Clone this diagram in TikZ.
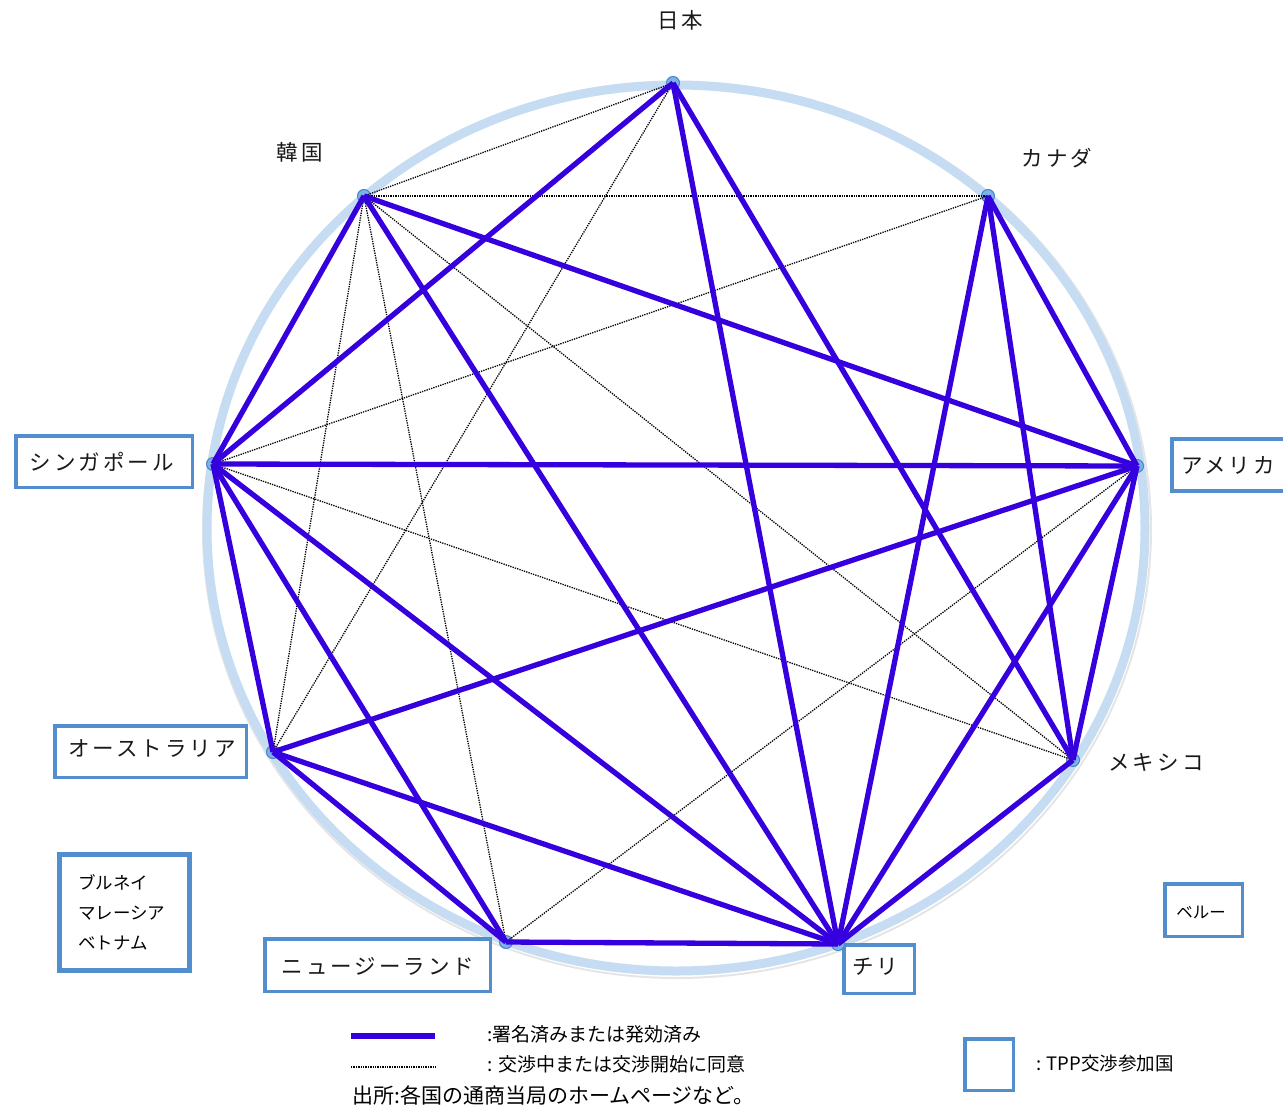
\documentclass[tikz,border=0pt]{standalone}
\usepackage{fontspec}
\newfontfamily\jp{Noto Sans CJK JP}
\newfontfamily\jpsp[LetterSpace=14]{Noto Sans CJK JP}
\usetikzlibrary{shadows}
\definecolor{fta}{RGB}{54,0,222}
\definecolor{ring}{RGB}{198,220,243}
\definecolor{boxblue}{RGB}{82,142,206}
\definecolor{dotfill}{RGB}{125,178,232}
\definecolor{dotdraw}{RGB}{72,132,200}
\begin{document}
\begin{tikzpicture}[x=1pt,y=-1pt,
  signed/.style={draw=fta, line width=5.3pt},
  talks/.style={draw=black, line width=1.3pt, dash pattern=on 1.3pt off 1.1pt},
  vtx/.style={circle, fill=dotfill, draw=dotdraw, line width=1pt, minimum size=13pt, inner sep=0pt},
  cname/.style={font=\jpsp\fontsize{21.5}{24}\selectfont, inner sep=0pt, text=black!90},
  tbox/.style={draw=boxblue, line width=3.5pt, fill=white, inner sep=0pt,
     drop shadow={opacity=0.22, shadow xshift=2pt, shadow yshift=-2pt}},
  legtext/.style={font=\jp\fontsize{19}{22}\selectfont, anchor=west, inner sep=0pt},
]
\useasboundingbox[fill=white] (0,0) rectangle (1283,1111);

% ring
\draw[black, opacity=0.10, line width=2pt] (677,530) ellipse [x radius=474, y radius=448];
\draw[ring, line width=9pt] (676,528) ellipse [x radius=469, y radius=443];

% boxes
\node[tbox, minimum width=176.5pt, minimum height=51.5pt] (sgbox) at (104,461.5) {};
\node[tbox, minimum width=118pt, minimum height=52pt] (ambox) at (1231,465) {};
\node[tbox, minimum width=191.5pt, minimum height=51.5pt] (aubox) at (150.5,751.5) {};
\node[tbox, minimum width=225.5pt, minimum height=52.5pt] (nzbox) at (377.5,965) {};
\node[tbox, minimum width=70.5pt, minimum height=48.5pt] (chbox) at (879,969) {};
\node[tbox, minimum width=77.5pt, minimum height=52.5pt] (pebox) at (1203.5,910) {};
\node[tbox, minimum width=48.5pt, minimum height=51.5pt] (legbox) at (989,1064.5) {};
\node[tbox, line width=5pt, minimum width=130pt, minimum height=116pt] (bmvbox) at (124.5,912.5) {};

% vertices
\node[vtx] (vJ)  at (673,83) {};
\node[vtx] (vK)  at (364,196) {};
\node[vtx] (vCa) at (988,196) {};
\node[vtx] (vSg) at (213,464) {};
\node[vtx] (vAm) at (1137,466) {};
\node[vtx] (vAu) at (273,752) {};
\node[vtx] (vMx) at (1073,760) {};
\node[vtx] (vNZ) at (506,942) {};
\node[vtx] (vCh) at (838,944) {};

% negotiating / agreed to negotiate
\foreach \a/\b in {vJ/vK, vJ/vAu, vK/vCa, vK/vAu, vK/vNZ, vK/vMx, vCa/vSg, vSg/vMx, vAm/vNZ}
  \draw[talks] (\a.center) -- (\b.center);

% signed or in force
\foreach \a/\b in {vJ/vSg, vJ/vCh, vJ/vMx, vK/vSg, vK/vAm, vK/vCh, vCa/vAm, vCa/vCh, vCa/vMx,
                   vSg/vAm, vSg/vAu, vSg/vNZ, vSg/vCh, vAm/vAu, vAm/vCh, vAm/vMx,
                   vAu/vNZ, vAu/vCh, vNZ/vCh, vMx/vCh}
  \draw[signed] (\a.center) -- (\b.center);

% labels
\node[cname] (jp) at (680,20) {日本};
\node[cname] (kr) at (300,152) {韓国};
\node[cname] (ca) at (1057,158) {カナダ};
\node[cname] (mx) at (1156,762) {メキシコ};
\node[cname] (sg) at (102,462) {シンガポール};
\node[cname] (am) at (1228,465) {アメリカ};
\node[cname] (au) at (152,749) {オーストラリア};
\node[cname] (nz) at (378,966) {ニュージーランド};
\node[cname] (ch) at (875,967) {チリ};
\node[font=\jp\fontsize{16.5}{20}\selectfont, inner sep=0pt] (pe) at (1201,912) {ベルー};
\node[font=\jp\fontsize{17.5}{30}\selectfont, inner sep=0pt, align=left, anchor=west] (bmv) at (78,912)
  {ブルネイ\\マレーシア\\ベトナム};

% legend
\coordinate (ls1) at (351,1036);
\coordinate (ls2) at (435,1036);
\draw[signed] (ls1) -- (ls2);
\coordinate (ld1) at (351,1067);
\coordinate (ld2) at (437,1067);
\draw[talks] (ld1) -- (ld2);
\node[legtext] (lt1) at (487,1034) {:署名済みまたは発効済み};
\node[legtext] (lt2) at (487,1064) {: 交渉中または交渉開始に同意};
\node[legtext, font=\jp\fontsize{21}{24}\selectfont] (src) at (352,1095) {出所:各国の通商当局のホームページなど。};
\node[legtext, font=\jp\fontsize{18.5}{20}\selectfont] (lt3) at (1036,1064) {: TPP交渉参加国};
\end{tikzpicture}
\end{document}
